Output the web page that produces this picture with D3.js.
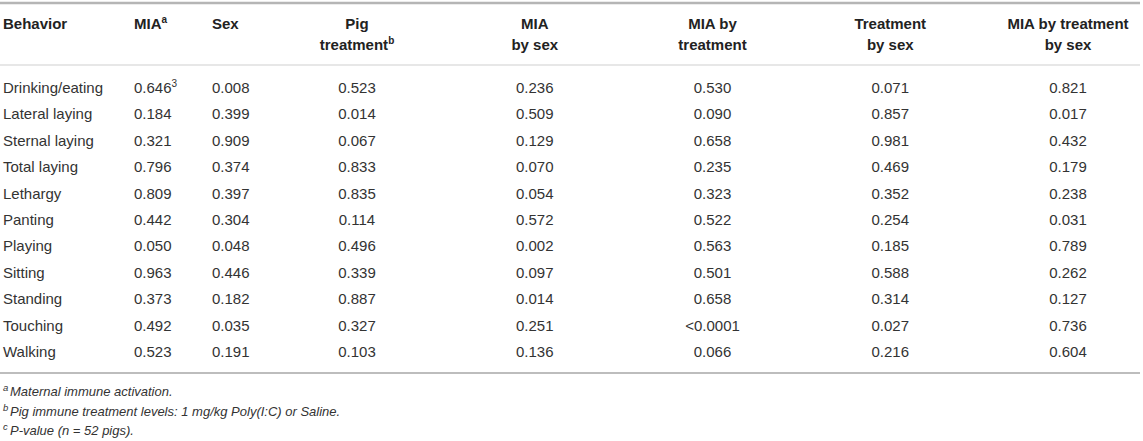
<!DOCTYPE html>
<html>
<head>
<meta charset="utf-8">
<script src="https://cdn.jsdelivr.net/npm/d3@7/dist/d3.min.js"></script>
<style>
  body { margin: 0; background: #fff; }
  svg text { font-family: "Liberation Sans", Arial, Helvetica, sans-serif; }
</style>
</head>
<body>
<div id="chart"></div>
<script>
"use strict";

// table contents
var behaviors = ["Drinking/eating", "Lateral laying", "Sternal laying", "Total laying", "Lethargy",
    "Panting", "Playing", "Sitting", "Standing", "Touching", "Walking"];
var mia = ["0.646", "0.184", "0.321", "0.796", "0.809", "0.442", "0.050", "0.963", "0.373", "0.492", "0.523"];
var sex = ["0.008", "0.399", "0.909", "0.374", "0.397", "0.304", "0.048", "0.446", "0.182", "0.035", "0.191"];
var pigTreatment = ["0.523", "0.014", "0.067", "0.833", "0.835", "0.114", "0.496", "0.339", "0.887", "0.327", "0.103"];
var miaBySex = ["0.236", "0.509", "0.129", "0.070", "0.054", "0.572", "0.002", "0.097", "0.014", "0.251", "0.136"];
var miaByTreatment = ["0.530", "0.090", "0.658", "0.235", "0.323", "0.522", "0.563", "0.501", "0.658", "<0.0001", "0.066"];
var treatmentBySex = ["0.071", "0.857", "0.981", "0.469", "0.352", "0.254", "0.185", "0.588", "0.314", "0.027", "0.216"];
var miaByTreatmentBySex = ["0.821", "0.017", "0.432", "0.179", "0.238", "0.031", "0.789", "0.262", "0.127", "0.736", "0.604"];
var miaCellNotes = { "Drinking/eating": "3" };

var headers = [
    { key: "behavior", lines: ["Behavior"], sup: null },
    { key: "mia", lines: ["MIA"], sup: "a" },
    { key: "sex", lines: ["Sex"], sup: null },
    { key: "pig", lines: ["Pig", "treatment"], sup: "b" },
    { key: "miaSex", lines: ["MIA", "by sex"], sup: null },
    { key: "miaTrt", lines: ["MIA by", "treatment"], sup: null },
    { key: "trtSex", lines: ["Treatment", "by sex"], sup: null },
    { key: "miaTrtSex", lines: ["MIA by treatment", "by sex"], sup: null }
];
var columnValues = {
    behavior: behaviors, mia: mia, sex: sex, pig: pigTreatment, miaSex: miaBySex,
    miaTrt: miaByTreatment, trtSex: treatmentBySex, miaTrtSex: miaByTreatmentBySex
};
var footnotes = [
    { mark: "a", text: "Maternal immune activation." },
    { mark: "b", text: "Pig immune treatment levels: 1 mg/kg Poly(I:C) or Saline." },
    { mark: "c", text: "P-value (n = 52 pigs)." }
];

var width = 1143, height = 441;
var fontSize = 15;
var textColor = "#333";

var svg = d3.select("#chart").append("svg")
    .attr("width", width).attr("height", height);

// left aligned columns and equally spaced centered columns
var leftX = { behavior: 3, mia: 134, sex: 212 };
var centerKeys = ["pig", "miaSex", "miaTrt", "trtSex", "miaTrtSex"];
var xCenter = d3.scalePoint().domain(centerKeys).range([357, 1068]);

var colX = function (key) { return leftX[key] !== undefined ? leftX[key] : xCenter(key); };
var colAnchor = function (key) { return leftX[key] !== undefined ? "start" : "middle"; };

var yRow = d3.scalePoint().domain(behaviors).range([88, 352]);

// rules
var rules = [
    { y: 3, w: 2.5, c: "#b5b5b5" },
    { y: 65, w: 1.2, c: "#cfcfcf" },
    { y: 373, w: 2, c: "#bdbdbd" }
];
svg.selectAll("line.rule").data(rules).enter().append("line")
    .attr("class", "rule")
    .attr("x1", 0).attr("x2", width - 3)
    .attr("y1", function (d) { return d.y; }).attr("y2", function (d) { return d.y; })
    .attr("stroke", function (d) { return d.c; })
    .attr("stroke-width", function (d) { return d.w; });

// header
var head = svg.selectAll("text.head").data(headers).enter().append("text")
    .attr("class", "head")
    .attr("x", function (d) { return colX(d.key); })
    .attr("y", 29)
    .attr("text-anchor", function (d) { return colAnchor(d.key); })
    .attr("font-size", fontSize)
    .attr("font-weight", "bold")
    .attr("fill", "#222");

head.each(function (d) {
    var t = d3.select(this);
    d.lines.forEach(function (line, i) {
        var span = t.append("tspan")
            .attr("x", colX(d.key))
            .attr("dy", i === 0 ? 0 : 21)
            .text(line);
        if (d.sup && i === d.lines.length - 1) {
            t.append("tspan").attr("dy", -6).attr("font-size", 10).text(d.sup);
        }
    });
});

// body cells
var cells = [];
headers.forEach(function (h) {
    columnValues[h.key].forEach(function (v, i) {
        cells.push({ key: h.key, row: behaviors[i], value: v });
    });
});

var cellText = svg.selectAll("text.cell").data(cells).enter().append("text")
    .attr("class", "cell")
    .attr("x", function (d) { return colX(d.key); })
    .attr("y", function (d) { return yRow(d.row) + 5; })
    .attr("text-anchor", function (d) { return colAnchor(d.key); })
    .attr("font-size", fontSize)
    .attr("fill", textColor);

cellText.append("tspan").text(function (d) { return d.value; });
cellText.filter(function (d) { return d.key === "mia" && miaCellNotes[d.row]; })
    .append("tspan").attr("dy", -6).attr("font-size", 10)
    .text(function (d) { return miaCellNotes[d.row]; });

// footnotes
var yFoot = d3.scalePoint().domain(footnotes.map(function (f) { return f.mark; })).range([396, 435]);
var foot = svg.selectAll("text.foot").data(footnotes).enter().append("text")
    .attr("class", "foot")
    .attr("x", 3)
    .attr("y", function (d) { return yFoot(d.mark); })
    .attr("font-size", 13)
    .attr("font-style", "italic")
    .attr("fill", textColor);
foot.append("tspan").attr("font-size", 9.5).attr("dy", -5).text(function (d) { return d.mark; });
foot.append("tspan").attr("x", 10).attr("dy", 5).text(function (d) { return d.text; });
</script>
</body>
</html>
